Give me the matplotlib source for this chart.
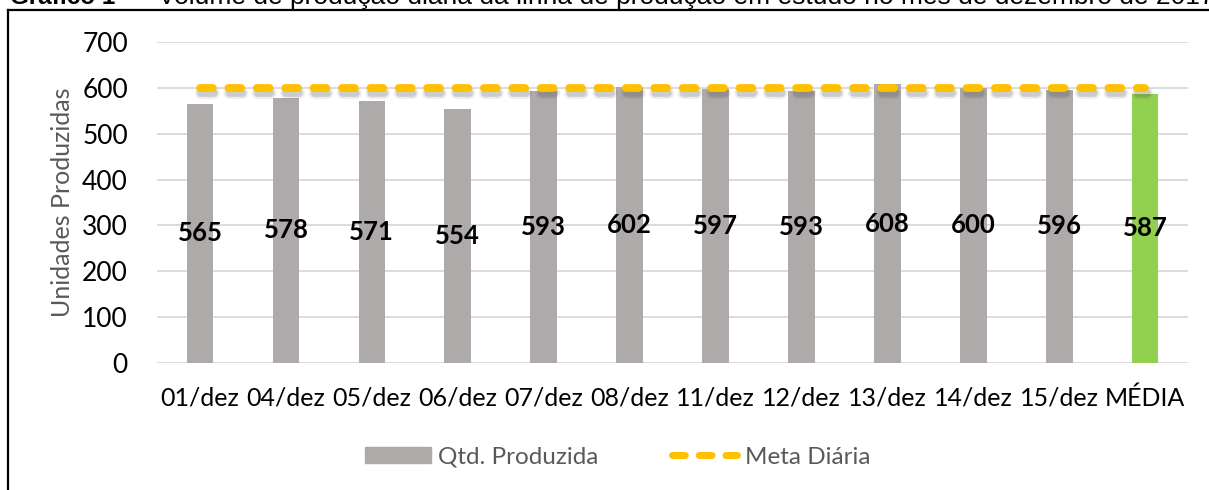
import numpy as np
import matplotlib.pyplot as plt
import matplotlib.patheffects as pe
from matplotlib.lines import Line2D
from matplotlib.patches import Patch

dias = ["01/dez", "04/dez", "05/dez", "06/dez", "07/dez", "08/dez",
        "11/dez", "12/dez", "13/dez", "14/dez", "15/dez", "MÉDIA"]
produzida = [565, 578, 571, 554, 593, 602, 597, 593, 608, 600, 596, 587]
meta = [600] * len(dias)

plt.rcParams["font.family"] = ["Lato", "DejaVu Sans"]

fig = plt.figure(figsize=(12.09, 4.90), dpi=100)
ax = fig.add_axes([0.1299, 0.2592, 0.8528, 0.6551])

x_pos = np.arange(len(dias))
cores = ["#AEAAAA"] * (len(dias) - 1) + ["#92D050"]
ax.bar(x_pos, produzida, width=0.31, color=cores, zorder=2)

for x, v in zip(x_pos, produzida):
    ax.text(x, v / 2, str(v), ha="center", va="center", fontsize=18.5,
            fontweight="bold", color="black", zorder=4)

sombra = [pe.SimpleLineShadow(offset=(1, -4), shadow_color="#444444", alpha=0.10, linewidth=8.5),
          pe.SimpleLineShadow(offset=(1, -3.5), shadow_color="#444444", alpha=0.18),
          pe.Normal()]
ax.plot(x_pos, meta, color="#FFC000", lw=5.6, ls=(0, (1.65, 2.0)),
        dash_capstyle="round", zorder=3, path_effects=sombra)

ax.set_xlim(-0.5, 11.5)
ax.set_ylim(0, 700)
ax.set_yticks(range(0, 701, 100))
ax.set_xticks(x_pos)
ax.set_xticklabels(dias, fontsize=18)
ax.tick_params(axis="y", labelsize=19, length=0, pad=21)
ax.tick_params(axis="x", length=0, pad=17)
ax.grid(axis="y", color="#D9D9D9", lw=1.3, zorder=0)
ax.set_axisbelow(True)
for s in ax.spines.values():
    s.set_visible(False)
ax.set_ylabel("Unidades Produzidas", fontsize=18, color="#595959", labelpad=6)

handles = [Patch(color="#AEAAAA"),
           Line2D([0], [0], color="#FFC000", lw=5.0, ls=(0, (1.85, 2.0)),
                  dash_capstyle="round")]
fig.legend(handles, ["Qtd. Produzida", "Meta Diária"], loc="center",
           bbox_to_anchor=(0.511, 0.067), ncol=2, frameon=False, fontsize=17.5,
           labelcolor="#595959", handlelength=2.7, handleheight=0.66,
           handletextpad=0.3, columnspacing=3.0)

# moldura
fig.add_artist(Line2D([0.0070, 0.0070], [0, 0.980], color="black", lw=1.6))
fig.add_artist(Line2D([0.0070, 1.0], [0.980, 0.980], color="black", lw=1.6))

# título cortado no topo
y_tit = 1 - 4 / 490
fig.text(0.008, y_tit, "Gráfico 1", fontsize=17.5, fontweight="bold",
         family="Liberation Sans", va="baseline")
fig.text(0.106, y_tit, "–", fontsize=19, family="Liberation Sans", va="baseline")
fig.text(0.131, y_tit,
         "Volume de produção diária da linha de produção em estudo no mês de dezembro de 2017",
         fontsize=19, family="Liberation Sans", va="baseline")

plt.savefig("out.png", dpi=100)
